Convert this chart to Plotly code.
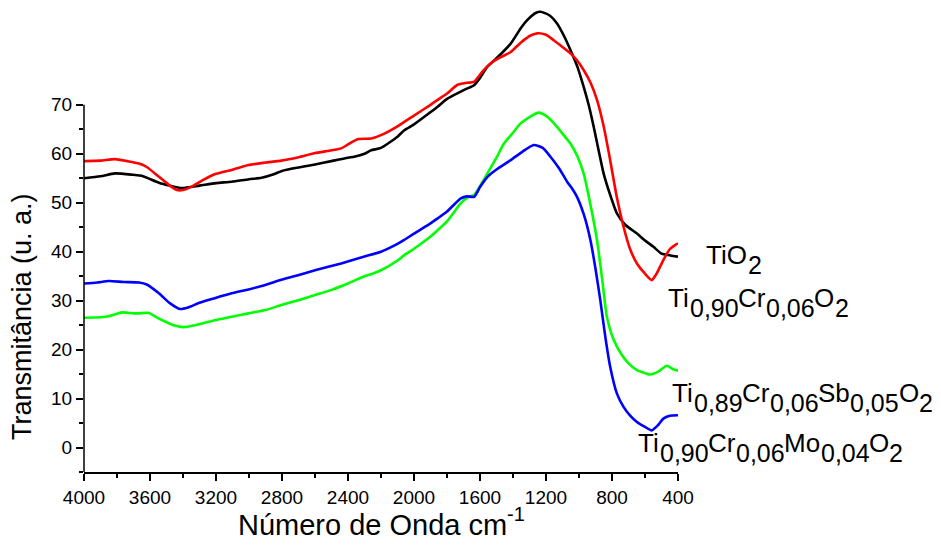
import plotly.graph_objects as go

# FTIR transmittance spectra (wavenumber in cm-1, transmittance in a.u.)
wn_tio2 = [4000, 3900, 3812, 3700, 3650, 3546, 3480, 3407, 3300, 3200, 3105, 3000, 2924, 2850,
           2800, 2700, 2600, 2501, 2400, 2362, 2300, 2260, 2200, 2100, 2059, 2000, 1900, 1857,
           1800, 1716, 1680, 1636, 1600, 1555, 1500, 1414, 1350, 1314, 1260, 1233, 1180, 1133,
           1090, 1052, 1010, 972, 940, 911, 880, 851, 810, 770, 720, 649, 600, 549, 500, 470,
           430, 400]
t_tio2 = [55.0, 55.4, 56.0, 55.7, 55.5, 54.1, 53.5, 53.0, 53.5, 54.0, 54.3, 54.8, 55.1, 55.8,
          56.5, 57.2, 57.8, 58.5, 59.2, 59.4, 60.0, 60.7, 61.2, 63.5, 64.8, 66.0, 68.5, 69.6,
          71.2, 72.7, 73.3, 74.0, 75.5, 77.8, 79.5, 82.5, 85.8, 87.3, 88.8, 89.0, 88.3, 86.6,
          84.0, 81.2, 77.8, 73.7, 69.8, 65.5, 60.5, 56.0, 51.5, 47.8, 45.5, 43.7, 42.3, 41.0,
          39.6, 39.4, 39.1, 39.0]

wn_cr = [4000, 3900, 3812, 3740, 3667, 3620, 3546, 3480, 3437, 3400, 3347, 3280, 3208, 3105,
         3003, 2900, 2803, 2700, 2604, 2500, 2441, 2400, 2338, 2260, 2200, 2100, 2059, 2000,
         1900, 1857, 1800, 1736, 1680, 1636, 1580, 1535, 1470, 1414, 1350, 1290, 1253, 1200,
         1153, 1100, 1052, 1010, 972, 930, 891, 850, 811, 770, 730, 690, 649, 600, 559, 530,
         489, 450, 420, 400]
t_cr = [58.5, 58.6, 58.9, 58.5, 58.0, 57.3, 55.3, 53.5, 52.6, 52.6, 53.3, 54.6, 55.8, 56.7,
        57.7, 58.2, 58.6, 59.3, 60.1, 60.7, 61.1, 61.9, 63.0, 63.1, 63.8, 65.6, 66.5, 67.8,
        70.0, 71.0, 72.3, 74.1, 74.5, 74.7, 77.0, 78.5, 79.8, 80.8, 82.8, 84.2, 84.6, 84.3,
        83.2, 81.8, 80.5, 79.0, 77.1, 74.5, 71.0, 65.5, 58.7, 51.0, 45.1, 40.5, 37.6, 35.5,
        34.2, 35.5, 38.3, 40.5, 41.3, 41.7]

wn_sb = [4000, 3900, 3851, 3770, 3700, 3667, 3607, 3560, 3506, 3450, 3398, 3300, 3208, 3105,
         3003, 2900, 2803, 2700, 2604, 2500, 2401, 2300, 2260, 2200, 2100, 2059, 2000, 1900,
         1857, 1800, 1716, 1680, 1636, 1600, 1555, 1500, 1455, 1400, 1354, 1300, 1244, 1190,
         1133, 1090, 1052, 1010, 972, 930, 891, 860, 831, 790, 746, 700, 649, 600, 569, 520,
         468, 430, 400]
t_sb = [26.5, 26.6, 26.8, 27.6, 27.4, 27.4, 27.5, 26.6, 25.7, 24.9, 24.6, 25.2, 26.0, 26.7,
        27.4, 28.1, 29.1, 30.1, 31.1, 32.2, 33.5, 35.0, 35.4, 36.2, 38.2, 39.3, 40.6, 43.1,
        44.4, 46.2, 49.9, 51.0, 51.6, 53.4, 56.0, 59.2, 62.1, 64.3, 66.2, 67.5, 68.4, 67.5,
        65.5, 63.7, 62.1, 59.5, 56.0, 49.5, 42.4, 34.5, 26.7, 22.0, 19.2, 17.2, 15.8, 15.2,
        14.9, 15.5, 16.7, 16.0, 15.7]

wn_mo = [4000, 3920, 3851, 3760, 3667, 3620, 3546, 3480, 3418, 3370, 3305, 3208, 3105, 3003,
         2924, 2800, 2703, 2600, 2441, 2300, 2200, 2100, 2059, 2000, 1900, 1857, 1800, 1716,
         1680, 1636, 1600, 1555, 1500, 1414, 1340, 1274, 1220, 1173, 1120, 1072, 1040, 1012,
         970, 931, 900, 871, 840, 811, 770, 730, 690, 649, 600, 559, 520, 489, 450, 400]
t_mo = [33.5, 33.7, 34.0, 33.8, 33.7, 33.3, 31.5, 29.5, 28.3, 28.6, 29.5, 30.5, 31.5, 32.3,
        33.0, 34.3, 35.2, 36.2, 37.6, 39.0, 40.0, 41.6, 42.4, 43.7, 45.8, 46.8, 48.2, 50.9,
        51.3, 51.2, 53.2, 55.3, 56.8, 58.7, 60.5, 61.8, 61.2, 59.4, 57.0, 54.3, 52.8, 51.2,
        47.5, 42.4, 36.5, 30.1, 22.5, 16.5, 11.0, 8.3, 6.5, 5.2, 4.2, 3.5, 4.6, 5.9, 6.5, 6.6]

x_ticks = [4000, 3600, 3200, 2800, 2400, 2000, 1600, 1200, 800, 400]
y_ticks = [0, 10, 20, 30, 40, 50, 60, 70]

# sample names, split into (text, is_subscript) pieces
name_tio2 = [("TiO", False), ("2", True)]
name_cr = [("Ti", False), ("0,90", True), ("Cr", False), ("0,06", True), ("O", False), ("2", True)]
name_sb = [("Ti", False), ("0,89", True), ("Cr", False), ("0,06", True), ("Sb", False),
           ("0,05", True), ("O", False), ("2", True)]
name_mo = [("Ti", False), ("0,90", True), ("Cr", False), ("0,06", True), ("Mo", False),
           ("0,04", True), ("O", False), ("2", True)]

series = [
    (wn_tio2, t_tio2, "#000000", name_tio2),
    (wn_cr, t_cr, "#FF0000", name_cr),
    (wn_sb, t_sb, "#00FF00", name_sb),
    (wn_mo, t_mo, "#0000FF", name_mo),
]

FONT = "Liberation Sans, Arial, sans-serif"

# Arial / Liberation Sans advance widths (1/1000 em)
ADV = {"T": 611, "i": 222, "O": 778, "C": 722, "r": 333, "S": 667, "b": 556, "M": 833,
       "o": 556, ",": 278, "-": 333, "N": 722, "ú": 556, "m": 833, "e": 556, " ": 278,
       "d": 556, "n": 556, "a": 556, "c": 500}
for dgt in "0123456789":
    ADV[dgt] = 556


def text_width(s, size):
    return sum(ADV.get(ch, 556) for ch in s) * size / 1000.0


fig = go.Figure()
for wn, t, color, parts in series:
    fig.add_trace(go.Scatter(
        x=wn, y=t, mode="lines", name="".join(p for p, _ in parts),
        line=dict(color=color, width=2.6, shape="spline", smoothing=0.6),
        hoverinfo="x+y", showlegend=False,
    ))

L, R, T, B = 84, 263, 2, 73
W, H = 941, 545
pw, ph = W - L - R, H - T - B


def to_paper(x, y):
    return (x - L) / pw, (H - B - y) / ph


def put_text(x_left, baseline, text, size, angle=0):
    # vertical centre of a Liberation Sans line box sits 0.3465 em above the baseline
    xp, yp = to_paper(x_left, baseline - 0.3465 * size)
    fig.add_annotation(
        x=xp, y=yp, xref="paper", yref="paper", xanchor="left", yanchor="middle",
        text=text, showarrow=False, borderpad=0, borderwidth=0, textangle=angle,
        font=dict(family=FONT, size=size, color="#000000"),
    )


def put_formula(x_left, baseline, parts, main=26, sub=25, drop=10):
    x = x_left
    for txt, is_sub in parts:
        size = sub if is_sub else main
        put_text(x, baseline + (drop if is_sub else 0), txt, size)
        x += text_width(txt, size)


# curve labels at the right-hand end of the spectra
label_pos = [(706, 264), (668, 307), (672, 402), (638, 452)]
for (x0, b0), (_, _, _, parts) in zip(label_pos, series):
    put_formula(x0, b0, parts)

# x-axis title with superscript unit exponent
xt_main, xt_sup = "Número de Onda cm", "-1"
xt_size, xt_sup_size = 29, 20
total = text_width(xt_main, xt_size) + text_width(xt_sup, xt_sup_size)
x_start = (L + L + pw) / 2 - total / 2
put_text(x_start, 535, xt_main, xt_size)
put_text(x_start + text_width(xt_main, xt_size), 521, xt_sup, xt_sup_size)

# y-axis title
xp, yp = to_paper(22, 317)
fig.add_annotation(
    x=xp, y=yp, xref="paper", yref="paper", xanchor="center", yanchor="middle",
    text="Transmitância (u. a.)", textangle=-90, showarrow=False,
    font=dict(family=FONT, size=27, color="#000000"),
)

# left axis line drawn only over the labelled span
fig.add_shape(type="line", xref="paper", yref="y", x0=0, x1=0, y0=-5, y1=70,
              line=dict(color="#000000", width=1.5), layer="above")

fig.update_layout(
    width=W, height=H,
    margin=dict(l=L, r=R, t=T, b=B, pad=0),
    paper_bgcolor="white", plot_bgcolor="white",
    font=dict(family=FONT, color="#000000"),
    xaxis=dict(
        range=[4000, 400], tickvals=x_ticks, ticktext=[str(v) for v in x_ticks],
        ticks="outside", ticklen=7, tickwidth=1.5, tickcolor="#000000",
        minor=dict(tickvals=list(range(3800, 400, -400)), ticks="outside", ticklen=4,
                   tickwidth=1.5, tickcolor="#000000"),
        showline=True, linecolor="#000000", linewidth=1.5,
        showgrid=False, zeroline=False,
        tickfont=dict(size=19, family=FONT),
    ),
    yaxis=dict(
        range=[-5, 91], tickvals=y_ticks, ticktext=[str(v) for v in y_ticks],
        ticks="outside", ticklen=7, tickwidth=1.5, tickcolor="#000000",
        minor=dict(tickvals=[-5, 5, 15, 25, 35, 45, 55, 65], ticks="outside", ticklen=4,
                   tickwidth=1.5, tickcolor="#000000"),
        showline=False, showgrid=False, zeroline=False,
        tickfont=dict(size=19, family=FONT),
    ),
)

fig.write_html("out.html")
